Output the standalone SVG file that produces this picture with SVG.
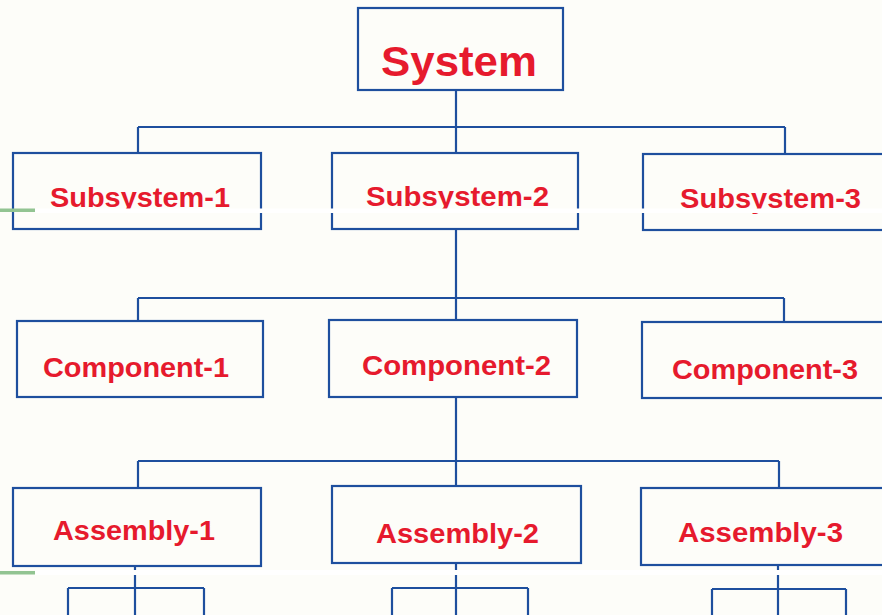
<svg xmlns="http://www.w3.org/2000/svg" width="882" height="615" viewBox="0 0 882 615">
<style>
.box{fill:none;stroke:#1e4f9e;stroke-width:2.2}
.ln{fill:none;stroke:#1e4f9e;stroke-width:2.2}
.t{font-family:"Liberation Sans",Arial,sans-serif;font-weight:bold;fill:#e61a2d;font-size:28px}
.big{font-size:43px}
</style>
<rect x="0" y="0" width="882" height="615" fill="#fdfdf9"/>
<g id="connectors">
<path class="ln" d="M456 90V127M138 127H785M138 127V153M785 127V154M456 127V153"/>
<path class="ln" d="M456 229V320M138 298H784M138 298V321M784 298V322"/>
<path class="ln" d="M456 397V486M138 461H779M138 461V488M779 461V488"/>
<path class="ln" d="M135 566V615M68 588H204M68 588V615M204 588V615"/>
<path class="ln" d="M456 563V615M392 588H528M392 588V615M528 588V615"/>
<path class="ln" d="M778 565V615M712 589H846M712 589V615M846 589V615"/>
</g>
<g id="system"><rect class="box" x="358" y="8" width="205" height="82"/><text class="t big" x="381" y="76" textLength="156" lengthAdjust="spacingAndGlyphs">System</text></g>
<g id="subsystem-1"><rect class="box" x="13" y="153" width="248" height="76"/><text class="t" x="50" y="207" textLength="180" lengthAdjust="spacingAndGlyphs">Subsystem-1</text></g>
<g id="subsystem-2"><rect class="box" x="332" y="153" width="246" height="76"/><text class="t" x="366" y="206" textLength="183" lengthAdjust="spacingAndGlyphs">Subsystem-2</text></g>
<g id="subsystem-3"><rect class="box" x="643" y="154" width="250" height="76"/><text class="t" x="680" y="208" textLength="181" lengthAdjust="spacingAndGlyphs">Subsystem-3</text></g>
<g id="component-1"><rect class="box" x="17" y="321" width="246" height="76"/><text class="t" x="43" y="377" textLength="186" lengthAdjust="spacingAndGlyphs">Component-1</text></g>
<g id="component-2"><rect class="box" x="329" y="320" width="248" height="77"/><text class="t" x="362" y="375" textLength="189" lengthAdjust="spacingAndGlyphs">Component-2</text></g>
<g id="component-3"><rect class="box" x="642" y="322" width="250" height="76"/><text class="t" x="672" y="379" textLength="186" lengthAdjust="spacingAndGlyphs">Component-3</text></g>
<g id="assembly-1"><rect class="box" x="13" y="488" width="248" height="78"/><text class="t" x="53" y="540" textLength="162" lengthAdjust="spacingAndGlyphs">Assembly-1</text></g>
<g id="assembly-2"><rect class="box" x="332" y="486" width="249" height="77"/><text class="t" x="376" y="543" textLength="163" lengthAdjust="spacingAndGlyphs">Assembly-2</text></g>
<g id="assembly-3"><rect class="box" x="641" y="488" width="250" height="77"/><text class="t" x="678" y="542" textLength="165" lengthAdjust="spacingAndGlyphs">Assembly-3</text></g>
<rect x="35" y="208.5" width="847" height="4.5" fill="#ffffff"/>
<rect x="0" y="208.5" width="35" height="3.5" fill="#92c492"/>
<rect x="35" y="570" width="847" height="5" fill="#ffffff"/>
<rect x="0" y="571" width="35" height="3.5" fill="#92c492"/>
</svg>
